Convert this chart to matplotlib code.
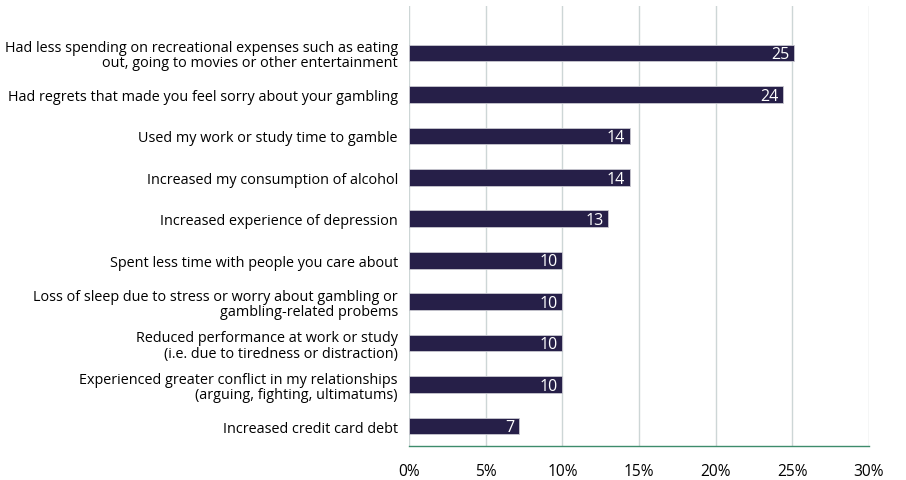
import matplotlib.pyplot as plt

categories = [
    "Had less spending on recreational expenses such as eating\nout, going to movies or other entertainment",
    "Had regrets that made you feel sorry about your gambling",
    "Used my work or study time to gamble",
    "Increased my consumption of alcohol",
    "Increased experience of depression",
    "Spent less time with people you care about",
    "Loss of sleep due to stress or worry about gambling or\ngambling-related probems",
    "Reduced performance at work or study\n(i.e. due to tiredness or distraction)",
    "Experienced greater conflict in my relationships\n(arguing, fighting, ultimatums)",
    "Increased credit card debt",
]
# bar lengths as drawn, labels as printed
values = [25.1, 24.4, 14.4, 14.4, 13.0, 10.0, 10.0, 10.0, 10.0, 7.2]
labels = ["25", "24", "14", "14", "13", "10", "10", "10", "10", "7"]
ticks = [0, 5, 10, 15, 20, 25, 30]
tick_labels = [f"{t}%" for t in ticks]

plt.rcParams['font.family'] = ['Open Sans', 'DejaVu Sans']

fig = plt.figure(figsize=(9.06, 4.81), dpi=100)
ax = fig.add_axes([409 / 906, 1 - 447 / 481, 460 / 906, 440 / 481])

pos = list(range(len(values)))
ax.barh(pos, values, height=0.4, color='#261f48', edgecolor='#c8c8d0', linewidth=0.6, zorder=3)
for p, v, lab in zip(pos, values, labels):
    ax.text(v - 0.3, p + 0.03, lab, color='white', ha='right', va='center', fontsize=11.5, zorder=4)

ax.set_xlim(0, 30)
ax.set_ylim(9.48, -1.13)
ax.set_xticks(ticks)
ax.set_xticklabels(tick_labels, fontsize=11.2)
ax.set_yticks(pos)
ax.set_yticklabels(categories, fontsize=10.4, linespacing=1.05)
ax.tick_params(axis='both', length=0)
ax.tick_params(axis='x', pad=12)
ax.tick_params(axis='y', pad=8)
ax.grid(axis='x', color='#cdd6d6', linewidth=1, zorder=0)
for side in ['top', 'right', 'left']:
    ax.spines[side].set_visible(False)
ax.spines['bottom'].set_color('#3e8c6c')
ax.spines['bottom'].set_linewidth(1)

fig.savefig('out.png', dpi=100)
